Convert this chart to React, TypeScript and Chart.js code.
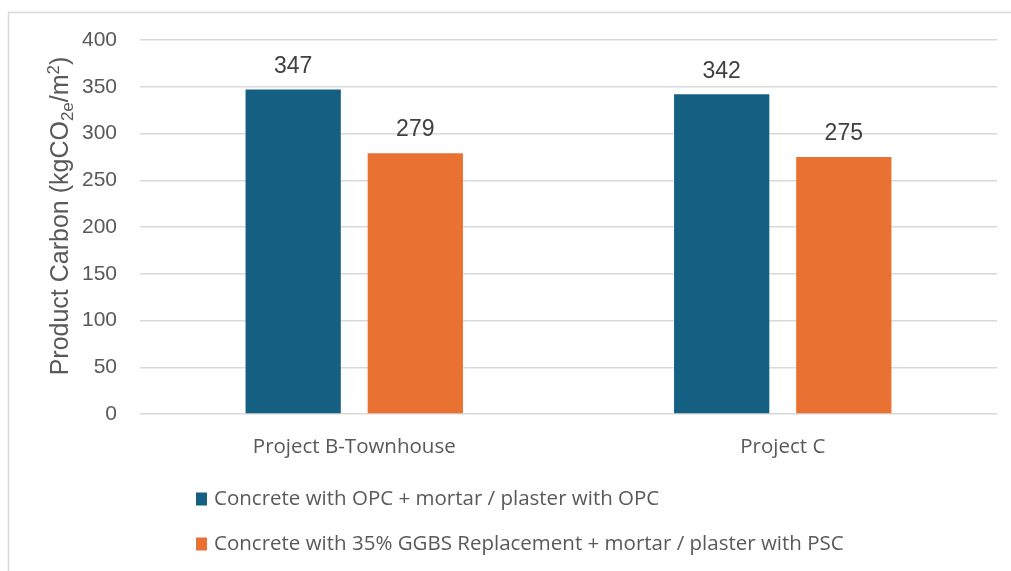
import React, { useEffect, useRef } from "react";
import { Chart, registerables } from "chart.js";

Chart.register(...registerables);

const categories = ["Project B-Townhouse", "Project C"];
const seriesNames = [
  "Concrete with OPC + mortar / plaster with OPC",
  "Concrete with 35% GGBS Replacement + mortar / plaster with PSC",
];
const opcValues = [347, 342];
const ggbsValues = [279, 275];
const seriesColors = ["#156082", "#E97132"];
const yTicks = { min: 0, max: 400, step: 50 };
const yTitleParts = [
  { text: "Product Carbon (kgCO", kind: "normal" },
  { text: "2e", kind: "sub" },
  { text: "/m", kind: "normal" },
  { text: "2", kind: "sup" },
  { text: ")", kind: "normal" },
];

const FONT = "'Liberation Sans', Arial, sans-serif";
const LABEL_FONT = "'Open Sans', sans-serif";

const frame = {
  id: "frame",
  beforeDraw(chart: any) {
    const { ctx, width, height } = chart;
    ctx.save();
    ctx.fillStyle = "#ffffff";
    ctx.fillRect(0, 0, width, height);
    ctx.strokeStyle = "#d9d9d9";
    ctx.lineWidth = 1.5;
    ctx.beginPath();
    ctx.moveTo(8.5, height + 2);
    ctx.lineTo(8.5, 12.5);
    ctx.lineTo(width + 2, 12.5);
    ctx.stroke();
    ctx.restore();
  },
};

// Legend stacked one item per row, left-aligned (as in the reference)
const stackedLegend = {
  id: "stackedLegend",
  afterDraw(chart: any) {
    const { ctx, chartArea } = chart;
    ctx.save();
    ctx.textBaseline = "middle";
    ctx.textAlign = "left";
    ctx.font = `20.5px ${LABEL_FONT}`;
    chart.data.datasets.forEach((ds: any, i: number) => {
      const cy = chartArea.bottom + 85 + i * 45;
      ctx.fillStyle = ds.backgroundColor;
      ctx.fillRect(196, cy - 6.5, 11, 13);
      ctx.fillStyle = "#595959";
      ctx.fillText(ds.label, 214, cy);
    });
    ctx.restore();
  },
};

const yAxisTitle = {
  id: "yAxisTitle",
  afterDraw(chart: any) {
    const { ctx, chartArea } = chart;
    const fontFor = (kind: string) => (kind === "normal" ? `25px ${FONT}` : `17px ${FONT}`);
    ctx.save();
    let total = 0;
    yTitleParts.forEach((p) => {
      ctx.font = fontFor(p.kind);
      total += ctx.measureText(p.text).width;
    });
    const cy = (chartArea.top + chartArea.bottom) / 2 - 11;
    ctx.translate(68, cy);
    ctx.rotate(-Math.PI / 2);
    ctx.fillStyle = "#595959";
    ctx.textBaseline = "alphabetic";
    ctx.textAlign = "left";
    let x = -total / 2;
    yTitleParts.forEach((p) => {
      ctx.font = fontFor(p.kind);
      const dy = p.kind === "sub" ? 5 : p.kind === "sup" ? -9 : 0;
      ctx.fillText(p.text, x, dy);
      x += ctx.measureText(p.text).width;
    });
    ctx.restore();
  },
};

const valueLabels = {
  id: "valueLabels",
  afterDatasetsDraw(chart: any) {
    const { ctx } = chart;
    ctx.save();
    ctx.font = `23px ${FONT}`;
    ctx.fillStyle = "#404040";
    ctx.textAlign = "center";
    ctx.textBaseline = "middle";
    chart.data.datasets.forEach((ds: any, di: number) => {
      const meta = chart.getDatasetMeta(di);
      meta.data.forEach((bar: any, i: number) => {
        ctx.fillText(String(ds.data[i]), bar.x, bar.y - 23);
      });
    });
    ctx.restore();
  },
};

export default function App() {
  const ref = useRef<HTMLCanvasElement>(null);
  useEffect(() => {
    if (!ref.current) return;
    const chart = new Chart(ref.current, {
      type: "bar",
      data: {
        labels: categories,
        datasets: [
          { label: seriesNames[0], data: opcValues, backgroundColor: seriesColors[0] },
          { label: seriesNames[1], data: ggbsValues, backgroundColor: seriesColors[1] },
        ],
      },
      options: {
        responsive: false,
        animation: false,
        layout: { padding: { left: 8, right: 14, top: 40, bottom: 109.5 } },
        datasets: { bar: { categoryPercentage: 0.57, barPercentage: 0.78 } } as any,
        scales: {
          x: {
            grid: { display: false, drawTicks: false },
            border: { display: false },
            ticks: {
              color: "#595959",
              font: { family: LABEL_FONT, size: 20.5 },
              padding: 21,
            },
            afterFit(scale: any) {
              scale.height = 47.5;
            },
          },
          y: {
            min: yTicks.min,
            max: yTicks.max,
            grid: { color: "#d9d9d9", lineWidth: 1.5, drawTicks: false },
            border: { display: false },
            ticks: {
              stepSize: yTicks.step,
              color: "#595959",
              font: { family: FONT, size: 21 },
              padding: 23,
            },
            title: { display: false },
            afterFit(scale: any) {
              scale.width = 132;
            },
          },
        },
        plugins: {
          legend: { display: false },
          tooltip: { enabled: false },
        },
      },
      plugins: [frame, stackedLegend, yAxisTitle, valueLabels],
    });
    return () => chart.destroy();
  }, []);
  return (
    <div style={{ position: "fixed", left: 0, top: 0, width: 1011, height: 571, background: "#fff" }}>
      <canvas ref={ref} width={1011} height={571} style={{ display: "block" }} />
    </div>
  );
}
